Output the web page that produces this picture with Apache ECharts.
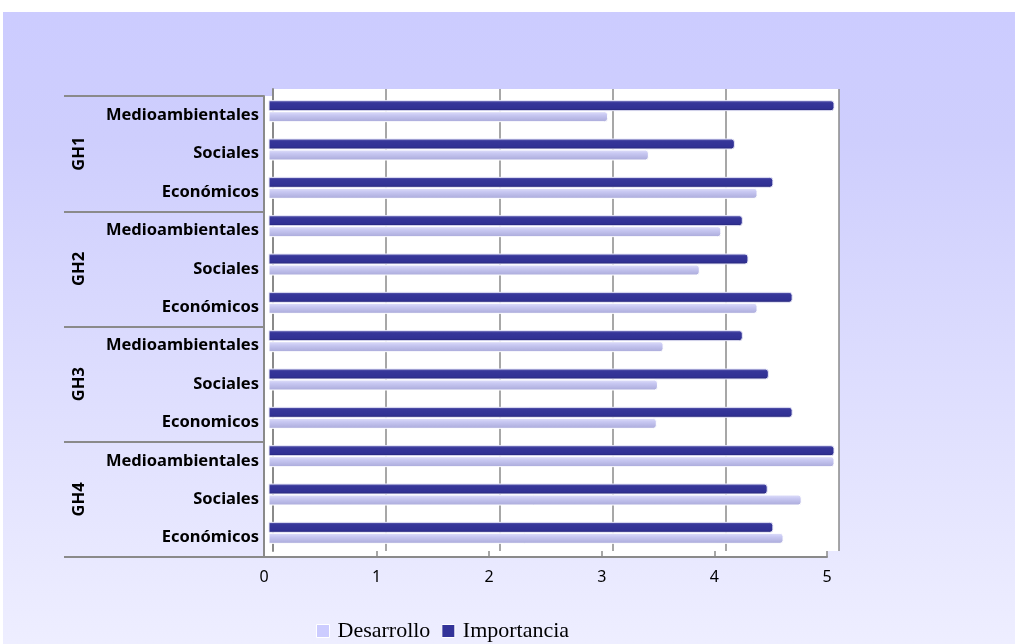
<!DOCTYPE html>
<html>
<head>
<meta charset="utf-8">
<script src="https://cdn.jsdelivr.net/npm/echarts@6/dist/echarts.min.js"></script>
<style>
  html, body { margin: 0; padding: 0; background: #fff; width: 1015px; height: 644px; overflow: hidden; }
  #chart { position: absolute; left: 3px; top: 12px; width: 1012px; height: 632px; }
</style>
</head>
<body>
<div id="chart"></div>
<script>
// Groups and the three dimensions rated in each of them
const groups = ['GH1', 'GH2', 'GH3', 'GH4'];
const categories = [
  'Medioambientales', 'Sociales', 'Económicos',
  'Medioambientales', 'Sociales', 'Económicos',
  'Medioambientales', 'Sociales', 'Economicos',
  'Medioambientales', 'Sociales', 'Económicos'
];
const xTicks = [0, 1, 2, 3, 4, 5];

// Average scores (0-5 scale)
const desarrollo  = [3.00, 3.36, 4.32, 4.00, 3.81, 4.32, 3.49, 3.44, 3.43, 5.00, 4.71, 4.55];
const importancia = [5.00, 4.12, 4.46, 4.19, 4.24, 4.63, 4.19, 4.42, 4.63, 5.00, 4.41, 4.46];

const grey = '#8a8a8a';
const labelFont = { fontFamily: 'Noto Sans', fontWeight: 'bold', fontSize: 16.5, color: '#000' };

const chart = echarts.init(document.getElementById('chart'), null, { renderer: 'canvas' });

const option = {
  animation: false,
  backgroundColor: {
    type: 'linear', x: 0, y: 0, x2: 0, y2: 1,
    colorStops: [
      { offset: 0, color: '#CCCCFF' },
      { offset: 0.2, color: '#CECEFD' },
      { offset: 1, color: '#EEEEFF' }
    ]
  },
  grid: [
    // back wall of the box
    { left: 270, right: 176, top: 77, bottom: 93, show: true, backgroundColor: '#ffffff', borderWidth: 0 },
    // front plane: floor edge, category and value labels
    { left: 261, right: 188, top: 84, bottom: 87, show: true, backgroundColor: '#ffffff', borderWidth: 0 },
    // bars, half-way between back and front
    { left: 265.5, right: 180.5, top: 80, bottom: 92 }
  ],
  xAxis: [
    {
      gridIndex: 0, type: 'value', min: 0, max: 5, interval: 1,
      axisLine: { show: false }, axisTick: { show: false }, axisLabel: { show: false },
      splitLine: { show: true, lineStyle: { color: grey, width: 1.5 } }
    },
    {
      gridIndex: 1, type: 'value', min: 0, max: 5, interval: 1,
      axisLine: { show: true, lineStyle: { color: grey, width: 2 } },
      axisTick: { show: true, inside: true, length: 6, lineStyle: { color: grey, width: 1.5 } },
      splitLine: { show: false },
      axisLabel: {
        margin: 12, color: '#000', fontSize: 16, fontFamily: 'Noto Sans',
        formatter: (v) => xTicks.includes(v) ? String(v) : ''
      }
    },
    { gridIndex: 2, type: 'value', min: 0, max: 5, show: false }
  ],
  yAxis: [
    {
      gridIndex: 0, type: 'category', data: categories, inverse: true, position: 'right',
      axisLine: { show: true, lineStyle: { color: grey, width: 2 } },
      axisTick: { show: false }, axisLabel: { show: false }, splitLine: { show: false }
    },
    {
      gridIndex: 1, type: 'category', data: categories, inverse: true, position: 'left',
      axisLine: { show: true, lineStyle: { color: grey, width: 2 } },
      axisTick: { show: false },
      axisLabel: Object.assign({ margin: 5, interval: 0 }, labelFont)
    },
    {
      gridIndex: 1, type: 'category', data: groups, inverse: true, position: 'left',
      axisLine: { show: false },
      axisTick: { show: true, interval: 0, length: 200, lineStyle: { color: grey, width: 2 } },
      axisLabel: Object.assign({ margin: 176, rotate: 90, interval: 0 }, labelFont)
    },
    { gridIndex: 2, type: 'category', data: categories, inverse: true, show: false }
  ],
  legend: {
    left: 313, top: 608, padding: 0,
    icon: 'rect', itemWidth: 13, itemHeight: 13, itemGap: 11,
    data: [
      { name: 'Desarrollo', itemStyle: { color: '#CCCCFF', borderColor: '#ffffff', borderWidth: 1 } },
      { name: 'Importancia', itemStyle: { color: '#333399', borderColor: '#ffffff', borderWidth: 1 } }
    ],
    textStyle: { fontFamily: 'Liberation Serif', fontSize: 22, color: '#000', padding: [0, 0, 0, 3] }
  },
  series: [
    {
      name: 'Importancia', type: 'bar', xAxisIndex: 2, yAxisIndex: 3,
      data: importancia, barWidth: 11, barGap: '0%',
      itemStyle: {
        color: {
          type: 'linear', x: 0, y: 0, x2: 0, y2: 1,
          colorStops: [
            { offset: 0, color: '#6a6ab8' },
            { offset: 0.25, color: '#363699' },
            { offset: 0.75, color: '#313194' },
            { offset: 1, color: '#24246e' }
          ]
        },
        borderColor: '#e8e8f8', borderWidth: 1, borderRadius: [0, 3, 3, 0]
      }
    },
    {
      name: 'Desarrollo', type: 'bar', xAxisIndex: 2, yAxisIndex: 3,
      data: desarrollo, barWidth: 11, barGap: '0%',
      itemStyle: {
        color: {
          type: 'linear', x: 0, y: 0, x2: 0, y2: 1,
          colorStops: [
            { offset: 0, color: '#e2e2fb' },
            { offset: 0.35, color: '#c8c8f2' },
            { offset: 1, color: '#a9a9d9' }
          ]
        },
        borderColor: '#ffffff', borderWidth: 1, borderRadius: [0, 3, 3, 0]
      }
    }
  ]
};

chart.setOption(option);
</script>
</body>
</html>
